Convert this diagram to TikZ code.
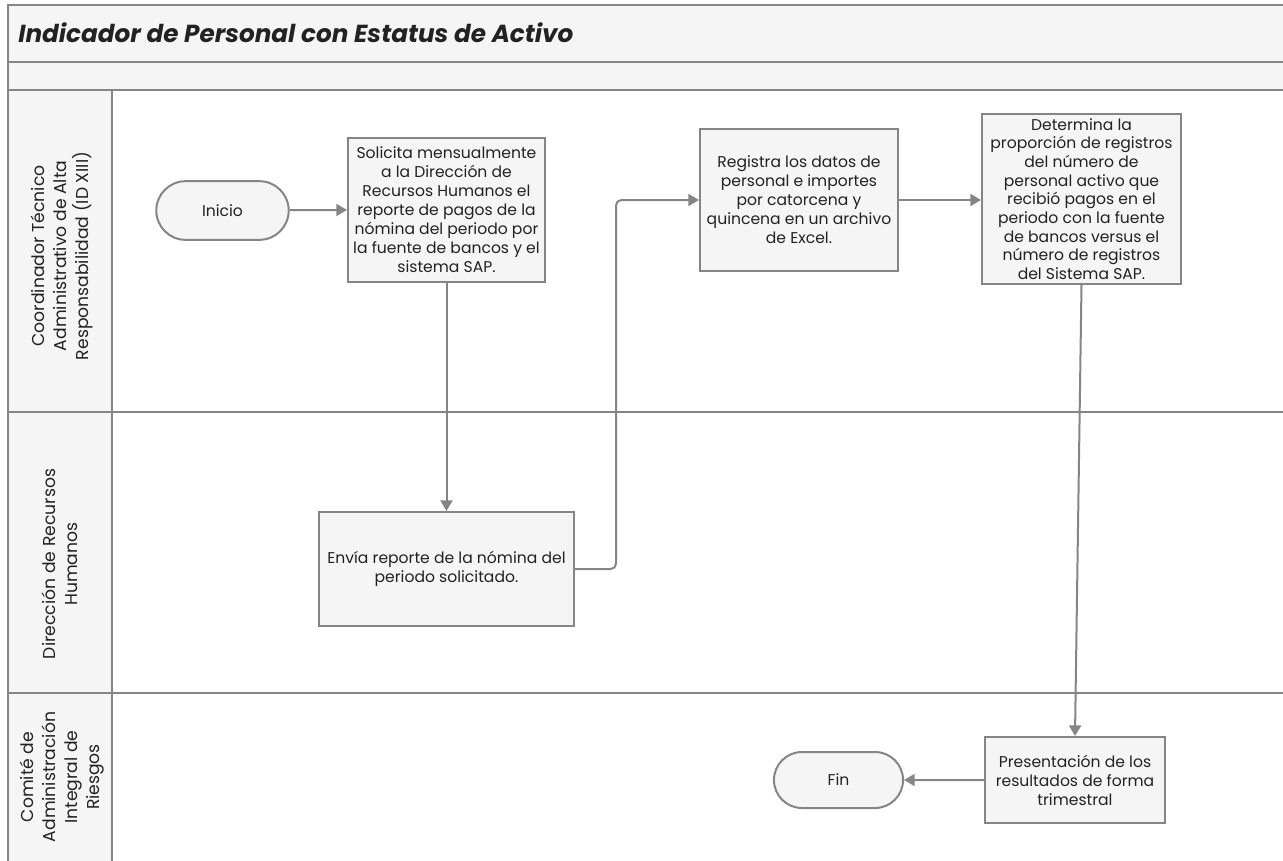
\documentclass[tikz,border=0pt]{standalone}
\usepackage{fontspec}
\setmainfont{Poppins}
\usetikzlibrary{arrows.meta,shapes.misc}
\definecolor{ln}{HTML}{858585}
\definecolor{fl}{HTML}{F5F5F5}
\definecolor{tx}{HTML}{222222}
\tikzset{
  proc/.style={draw=ln,fill=fl,line width=1.5pt,align=center,inner sep=1pt,text=tx,
    font=\fontsize{11.7}{14.25}\selectfont},
  term/.style={draw=ln,fill=fl,line width=1.5pt,rounded rectangle,align=center,text=tx,
    font=\fontsize{11.7}{14.25}\selectfont},
  conn/.style={draw=ln,line width=1.5pt,-{Triangle[width=9pt,length=8pt]}},
  lane/.style={draw=ln,line width=1.5pt},
  lanelbl/.style={rotate=90,align=center,text=tx,font=\fontsize{12.9}{16.5}\selectfont}
}
\begin{document}
\begin{tikzpicture}[x=0.75pt,y=-0.75pt]
\useasboundingbox (0,0) rectangle (1283,861);
% backgrounds
\fill[fl] (8,5) rectangle (1283,90);
\fill[fl] (8,90) rectangle (112,861);
% lines
\draw[lane] (8,861) -- (8,5) -- (1283,5);
\draw[lane] (8,62) -- (1283,62);
\draw[lane] (8,90) -- (1283,90);
\draw[lane] (112,90) -- (112,861);
\draw[lane] (8,412) -- (1283,412);
\draw[lane] (8,693) -- (1283,693);
% title
\node[anchor=west,text=tx,inner sep=0pt,font=\fontsize{18.5}{20}\selectfont\bfseries\itshape] (title) at (18,33) {Indicador de Personal con Estatus de Activo};
% lane labels
\node[lanelbl] (l1) at (62,256) {Coordinador Técnico\\Administrativo de Alta\\Responsabilidad (ID XIII)};
\node[lanelbl] (l2) at (60,564) {Dirección de Recursos\\Humanos};
\node[lanelbl] (l3) at (62,777) {Comité de\\Administración\\Integral de\\Riesgos};
% nodes
\node[term,minimum width=106pt,minimum height=44pt] (ini) at (222.5,210.5) {Inicio};
\node[proc,minimum width=147.75pt,minimum height=108pt] (b1) at (446.5,209.5)
  {Solicita mensualmente\\a la Dirección de\\Recursos Humanos el\\reporte de pagos de la\\nómina del periodo por\\la fuente de bancos y el\\sistema SAP.};
\node[proc,minimum width=148.5pt,minimum height=106.5pt] (b2) at (799,200)
  {Registra los datos de\\personal e importes\\por catorcena y\\quincena en un archivo\\de Excel.};
\node[proc,minimum width=149.25pt,minimum height=127.5pt,inner sep=0pt,font=\fontsize{11.7}{14}\selectfont] (b3) at (1081.5,199)
  {Determina la\\proporción de registros\\del número de\\personal activo que\\recibió pagos en el\\periodo con la fuente\\de bancos versus el\\número de registros\\del Sistema SAP.};
\node[proc,minimum width=191.25pt,minimum height=85.5pt] (b4) at (446.5,569)
  {Envía reporte de la nómina del\\periodo solicitado.};
\node[proc,minimum width=135pt,minimum height=64.5pt] (b5) at (1075,780)
  {Presentación de los\\resultados de forma\\trimestral};
\node[term,minimum width=103.5pt,minimum height=42pt] (fin) at (838.5,780) {Fin};
% connectors
\draw[conn] (ini) -- (b1);
\draw[conn] (b1) -- (b4);
\draw[conn,rounded corners=4pt] (b4.east) -- ++(41,0) |- (b2.west);
\draw[conn] (b2.east) -- (b3.west |- b2.east);
\draw[conn] (b3.south) -- (b5.north);
\draw[conn] (b5) -- (fin);
\end{tikzpicture}
\end{document}
